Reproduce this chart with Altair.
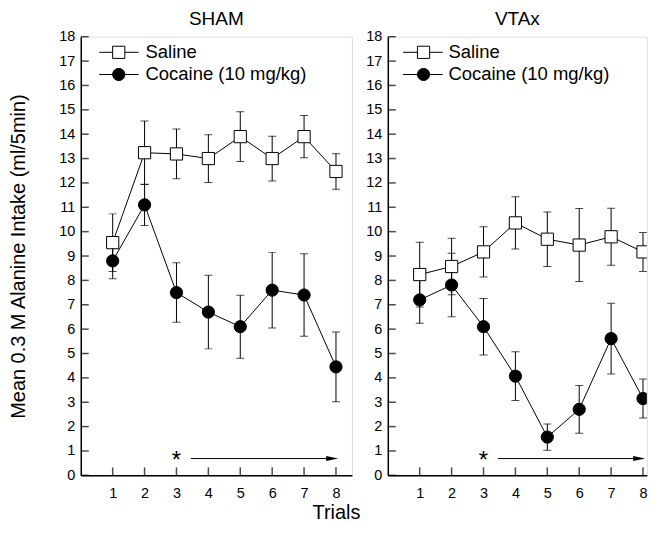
import altair as alt
import pandas as pd

FONT = "Liberation Sans"

trials = [1, 2, 3, 4, 5, 6, 7, 8]
y_ticks = list(range(0, 19))
groups = ["Saline", "Cocaine (10 mg/kg)"]

sham_saline = [9.55, 13.24, 13.19, 13.0, 13.9, 13.0, 13.9, 12.47]
sham_saline_err = [1.18, 1.3, 1.02, 0.98, 1.02, 0.92, 0.87, 0.73]
sham_cocaine = [8.8, 11.1, 7.5, 6.7, 6.1, 7.6, 7.4, 4.45]
sham_cocaine_err = [0.73, 0.85, 1.22, 1.51, 1.29, 1.55, 1.69, 1.43]

vtax_saline = [8.24, 8.57, 9.17, 10.36, 9.69, 9.45, 9.79, 9.17]
vtax_saline_err = [1.33, 1.16, 1.03, 1.07, 1.12, 1.5, 1.17, 0.8]
vtax_cocaine = [7.2, 7.81, 6.1, 4.07, 1.57, 2.71, 5.61, 3.15]
vtax_cocaine_err = [0.96, 1.3, 1.16, 1.0, 0.54, 0.98, 1.45, 0.8]

# annotation (significance from trial 3 onward)
star_x = [3]
star_y = [0.3]
arrow_x = [3.45]
arrow_x2 = [7.9]
arrow_head_x = [7.88]
arrow_y = [0.69]

# legend placement (data units)
sham_legend = {"x1": 0.58, "x2": 1.81, "xm": 1.19, "xt": 2.03, "y": [17.36, 16.45]}
vtax_legend = {"x1": 0.48, "x2": 1.72, "xm": 1.12, "xt": 1.9, "y": [17.36, 16.45]}

PLOT_H = 440
STEP = 32.0


def build_df(saline, saline_err, cocaine, cocaine_err):
    rows = []
    for g, m, e in [(groups[0], saline, saline_err), (groups[1], cocaine, cocaine_err)]:
        for t, mi, ei in zip(trials, m, e):
            rows.append({"trial": t, "group": g, "mean": mi, "lo": mi - ei, "hi": mi + ei})
    return pd.DataFrame(rows)


def panel(title, df, legend, xmax, left):
    width = xmax * STEP
    xs = alt.Scale(domain=[0, xmax], nice=False, zero=False)
    ys = alt.Scale(domain=[0, 18], nice=False, zero=False)
    x_axis_kw = dict(values=trials, ticks=False, grid=False, labelFontSize=14.5, labelPadding=11,
                     domainColor="black", domainWidth=1.5, labelColor="black", labelFont=FONT)
    if left:
        x_axis_kw.update(titleFontSize=20, titleFont=FONT, titleFontWeight="normal", titleColor="black",
                         titleX=256, titleY=43, titleAlign="center", titleBaseline="alphabetic")
    x_axis = alt.Axis(**x_axis_kw)
    y_axis_kw = dict(values=y_ticks, ticks=False, grid=False, labelFontSize=14.5, labelPadding=6,
                     domainColor="black", domainWidth=1.5, labelColor="black", labelFont=FONT)
    if left:
        y_axis_kw.update(titleFontSize=20, titleFont=FONT, titleFontWeight="normal", titleColor="black",
                         titleX=-62, titleY=PLOT_H / 2, titleAngle=-90, titleAlign="center",
                         titleBaseline="middle")
    y_axis = alt.Axis(**y_axis_kw)
    xt = "Trials" if left else None
    yt = "Mean 0.3 M Alanine Intake (ml/5min)" if left else None

    def X(f):
        return alt.X(f, type="quantitative", scale=xs, axis=x_axis, title=xt)

    def Y(f):
        return alt.Y(f, type="quantitative", scale=ys, axis=y_axis, title=yt)

    shape = alt.Shape("group:N", scale=alt.Scale(domain=groups, range=["square", "circle"]), legend=None)
    fill = alt.Fill("group:N", scale=alt.Scale(domain=groups, range=["white", "black"]), legend=None)
    sizes = alt.Size("group:N", scale=alt.Scale(domain=groups, range=[150, 150]), legend=None)

    base = alt.Chart(df)
    err = base.mark_rule(color="black", strokeWidth=1, clip=True).encode(x=X("trial"), y=Y("lo"), y2="hi")
    caps = base.transform_fold(["lo", "hi"], as_=["end", "val"]).mark_tick(
        orient="horizontal", size=8, thickness=1, color="black", clip=True
    ).encode(x=X("trial"), y=Y("val"))
    line = base.mark_line(color="black", strokeWidth=1, clip=True).encode(
        x=X("trial"), y=Y("mean"), detail="group:N"
    )
    pts = base.mark_point(filled=False, stroke="black", strokeWidth=1, opacity=1, clip=True).encode(
        x=X("trial"), y=Y("mean"), shape=shape, fill=fill, size=sizes
    )

    leg_df = pd.DataFrame({
        "group": groups,
        "x1": [legend["x1"]] * 2, "x2": [legend["x2"]] * 2,
        "xm": [legend["xm"]] * 2, "xt": [legend["xt"]] * 2,
        "y": legend["y"],
    })
    lb = alt.Chart(leg_df)
    leg_rule = lb.mark_rule(color="black", strokeWidth=1).encode(x=X("x1"), x2="x2", y=Y("y"))
    leg_pts = lb.mark_point(filled=False, stroke="black", strokeWidth=1, opacity=1).encode(
        x=X("xm"), y=Y("y"), shape=shape, fill=fill, size=sizes
    )
    leg_txt = lb.mark_text(align="left", baseline="middle", fontSize=18.5, font=FONT, color="black").encode(
        x=X("xt"), y=Y("y"), text="group:N"
    )

    yt_df = pd.DataFrame({"v": y_ticks})
    ytick = alt.Chart(yt_df).mark_tick(orient="horizontal", size=8, thickness=1.5, color="black").encode(
        y=Y("v"), x=alt.value(4)
    )
    xt_df = pd.DataFrame({"v": trials})
    xtick = alt.Chart(xt_df).mark_tick(orient="vertical", size=8, thickness=1.5, color="black").encode(
        x=X("v"), y=alt.value(PLOT_H - 4)
    )

    ann_df = pd.DataFrame({"sx": star_x, "sy": star_y, "ax": arrow_x, "ax2": arrow_x2,
                           "hx": arrow_head_x, "ay": arrow_y})
    ab = alt.Chart(ann_df)
    star = ab.mark_text(text="*", fontSize=24, font=FONT, color="black", baseline="alphabetic",
                        align="center").encode(x=X("sx"), y=Y("sy"))
    arrow = ab.mark_rule(color="black", strokeWidth=1).encode(x=X("ax"), x2="ax2", y=Y("ay"))
    head = ab.mark_point(shape="M-1,-0.42L1,0L-1,0.42Z", filled=True, color="black", size=144,
                         opacity=1).encode(x=X("hx"), y=Y("ay"))

    return alt.layer(err, caps, line, pts, leg_rule, leg_pts, leg_txt, ytick, xtick, star, arrow, head).properties(
        width=width, height=PLOT_H,
        title=alt.TitleParams(title, fontSize=19, font=FONT, fontWeight="normal", color="black",
                              anchor="middle", offset=0),
    )


left = panel("SHAM", build_df(sham_saline, sham_saline_err, sham_cocaine, sham_cocaine_err),
             sham_legend, 8.5, True)
right = panel("VTAx", build_df(vtax_saline, vtax_saline_err, vtax_cocaine, vtax_cocaine_err),
              vtax_legend, 8.12, False)

chart = alt.hconcat(left, right, spacing=36, bounds="flush").properties(
    padding={"left": 0, "top": 0, "right": 0, "bottom": 0}
).configure_view(stroke=None).configure(background="white")

chart.save("out.html", embed_options={"renderer": "svg", "actions": False})
